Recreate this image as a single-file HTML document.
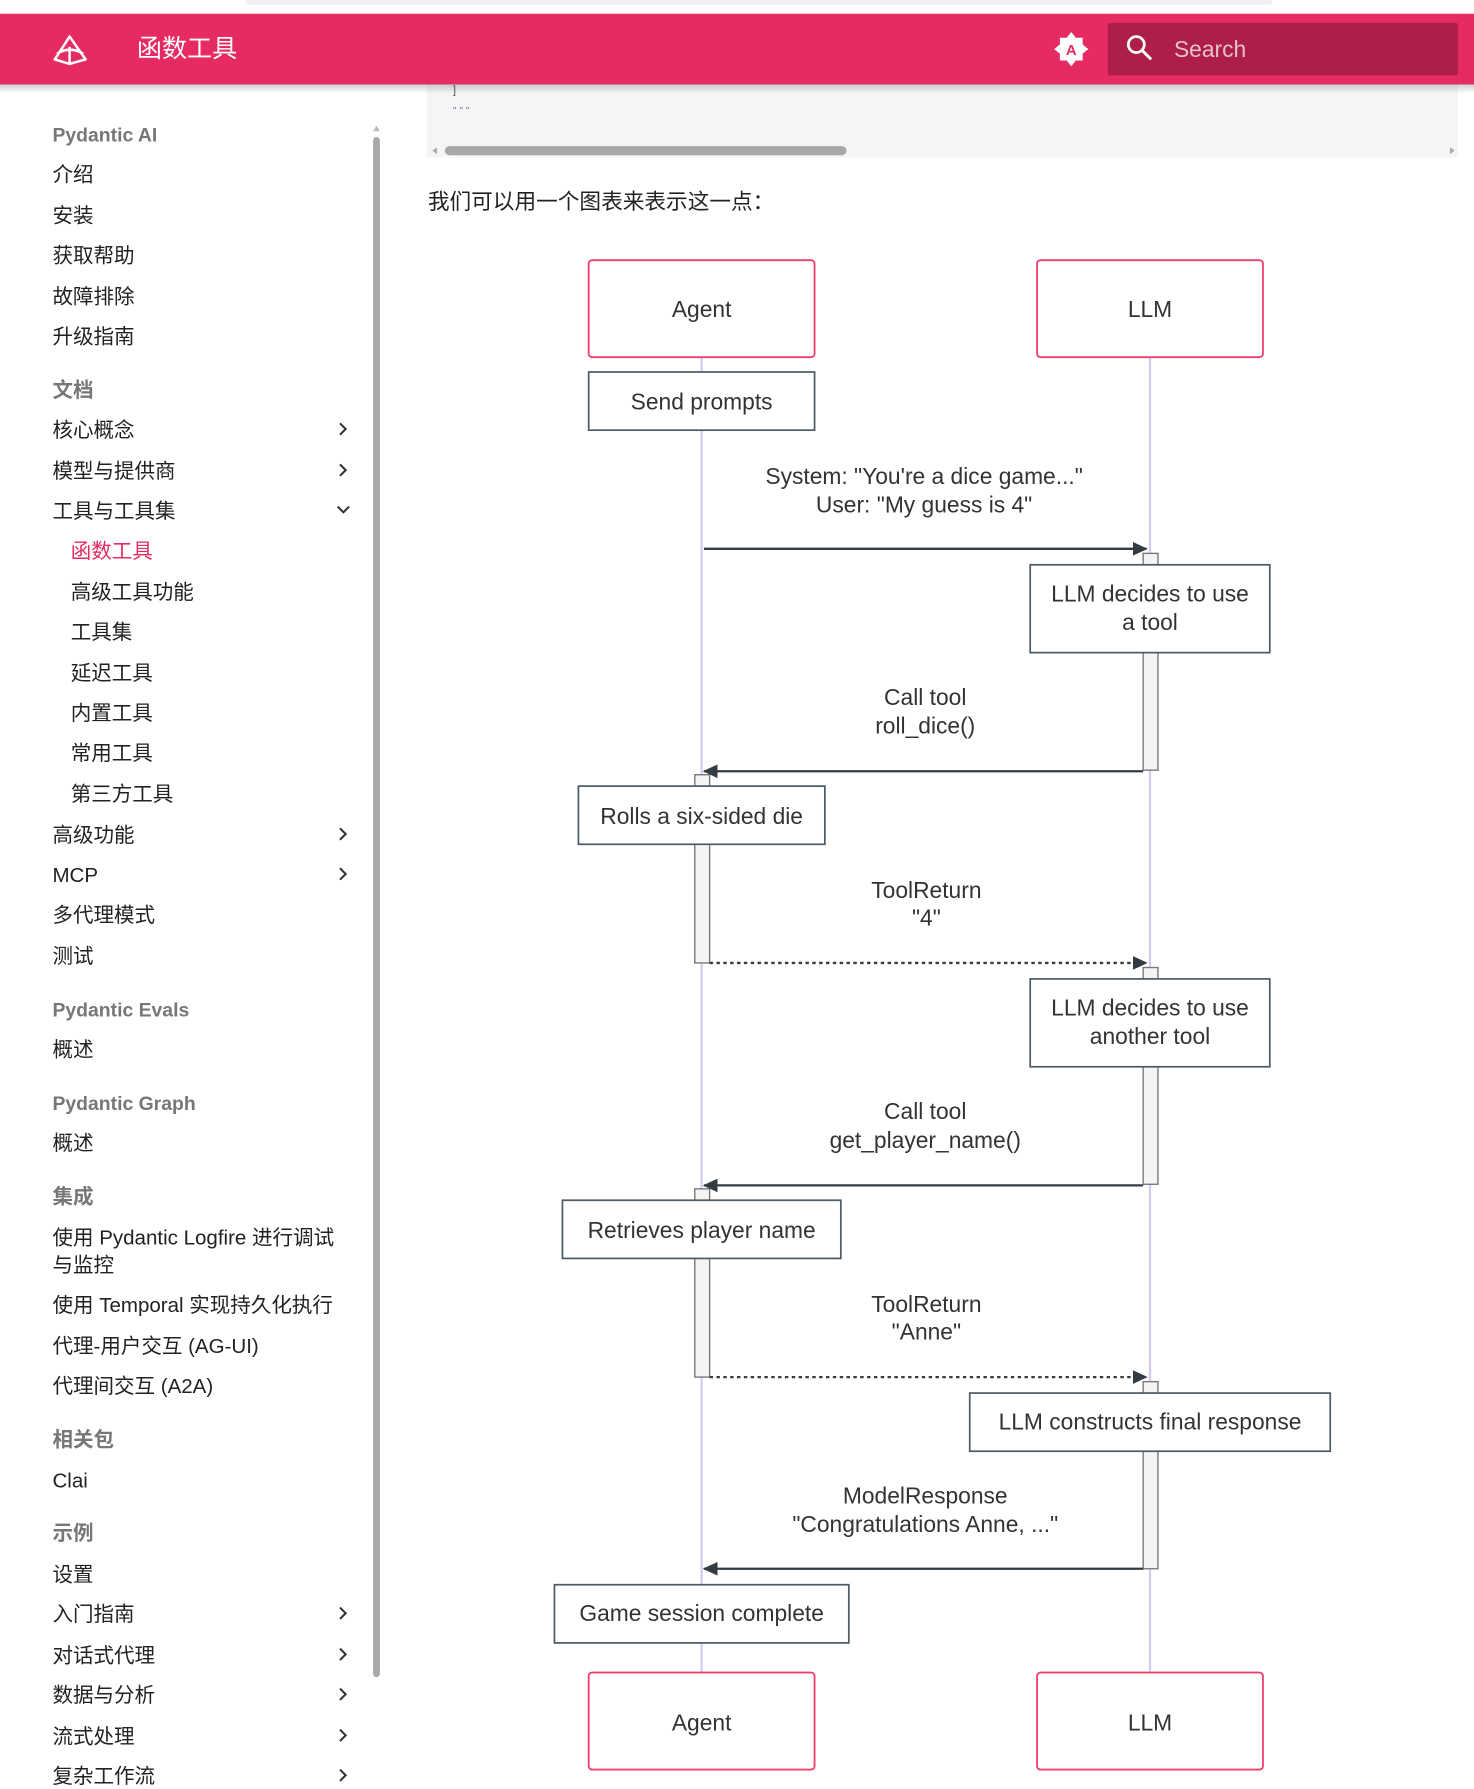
<!DOCTYPE html>
<html><head><meta charset="utf-8"><style>
html,body{margin:0;padding:0;background:#fff;width:1474px;height:1789px;overflow:hidden}
svg{display:block}
text{font-family:"Liberation Sans","Noto Sans CJK SC",sans-serif}
</style></head><body>
<svg width="1474" height="1789" viewBox="0 0 1292 1568" xmlns="http://www.w3.org/2000/svg">
<defs>
<linearGradient id="sh" x1="0" y1="0" x2="0" y2="1"><stop offset="0" stop-color="#000" stop-opacity="0.18"/><stop offset="1" stop-color="#000" stop-opacity="0"/></linearGradient>
<marker id="ar" markerWidth="13" markerHeight="12" refX="12" refY="6" orient="auto" markerUnits="userSpaceOnUse"><path d="M0,0 L13,6 L0,12 z" fill="#333c42"/></marker>
</defs>
<rect x="0" y="0" width="1292" height="12" fill="#fff"/>
<rect x="215" y="0" width="900" height="4" rx="2" fill="#eef0f4"/>
<rect x="374" y="74" width="904" height="64" fill="#f5f5f5"/>
<text x="397" y="82" font-size="10" fill="#555">]</text>
<text x="397" y="100" font-size="9" fill="#6a7a99">" " "</text>
<rect x="390" y="128" width="352" height="8" rx="4" fill="#a8a8a8"/>
<path d="M379,132 l4,-3 v6z M1275,132 l-4,-3 v6z" fill="#a8a8a8"/>
<rect x="0" y="74" width="1292" height="8" fill="url(#sh)"/>
<rect x="0" y="12" width="1292" height="62" fill="#e52b62"/>
<g fill="none" stroke="#fff" stroke-width="2.2" stroke-linejoin="round">
<path d="M61,32 L48,52 L61,56 L75,52 Z M50,47 Q61,40 73,47 M61,41 V56"/>
</g>
<text x="120" y="50" font-size="22" fill="#fff">函数工具</text>
<path d="M939,28 l4,5 6,0 0,6 5,4 -5,4 0,6 -6,0 -4,5 -4,-5 -6,0 0,-6 -5,-4 5,-4 0,-6 6,0z" fill="#fff"/>
<text x="939" y="48" font-size="13" font-weight="bold" fill="#e52b62" text-anchor="middle">A</text>
<rect x="971" y="20" width="307" height="46" rx="2" fill="#ad1f4a"/>
<circle cx="996" cy="39" r="7" fill="none" stroke="#fff" stroke-width="2.4"/>
<path d="M1001,44 L1009,52" stroke="#fff" stroke-width="2.6"/>
<text x="1029" y="50" font-size="20" fill="#fff" fill-opacity="0.72">Search</text>

<rect x="327" y="120" width="6" height="1350" rx="3" fill="#a8a8a8"/>
<path d="M330,110 l-3,5 h6z" fill="#bbb"/>
<g font-size="18" fill="#222">
<text x="46" y="124" fill="#777" font-weight="bold" font-size="17">Pydantic AI</text>
<text x="46" y="159">介绍</text>
<text x="46" y="195">安装</text>
<text x="46" y="230">获取帮助</text>
<text x="46" y="266">故障排除</text>
<text x="46" y="301">升级指南</text>
<text x="46" y="348" fill="#777" font-weight="bold">文档</text>
<text x="46" y="383">核心概念</text>
<text x="46" y="419">模型与提供商</text>
<text x="46" y="454">工具与工具集</text>
<text x="62" y="489" fill="#e52b62">函数工具</text>
<text x="62" y="525">高级工具功能</text>
<text x="62" y="560">工具集</text>
<text x="62" y="596">延迟工具</text>
<text x="62" y="631">内置工具</text>
<text x="62" y="666">常用工具</text>
<text x="62" y="702">第三方工具</text>
<text x="46" y="738">高级功能</text>
<text x="46" y="773">MCP</text>
<text x="46" y="808">多代理模式</text>
<text x="46" y="844">测试</text>
<text x="46" y="891" fill="#777" font-weight="bold" font-size="17">Pydantic Evals</text>
<text x="46" y="926">概述</text>
<text x="46" y="973" fill="#777" font-weight="bold" font-size="17">Pydantic Graph</text>
<text x="46" y="1008">概述</text>
<text x="46" y="1055" fill="#777" font-weight="bold">集成</text>
<text x="46" y="1091">使用 Pydantic Logfire 进行调试</text>
<text x="46" y="1115">与监控</text>
<text x="46" y="1150">使用 Temporal 实现持久化执行</text>
<text x="46" y="1186">代理-用户交互 (AG-UI)</text>
<text x="46" y="1221">代理间交互 (A2A)</text>
<text x="46" y="1268" fill="#777" font-weight="bold">相关包</text>
<text x="46" y="1304">Clai</text>
<text x="46" y="1350" fill="#777" font-weight="bold">示例</text>
<text x="46" y="1386">设置</text>
<text x="46" y="1421">入门指南</text>
<text x="46" y="1457">对话式代理</text>
<text x="46" y="1492">数据与分析</text>
<text x="46" y="1528">流式处理</text>
<text x="46" y="1563">复杂工作流</text>
</g>
<g fill="none" stroke="#333" stroke-width="1.8">
<path d="M298,371 l5,5 -5,5 M298,407 l5,5 -5,5 M296,444 l5,5 5,-5 M298,726 l5,5 -5,5 M298,761 l5,5 -5,5 M298,1409 l5,5 -5,5 M298,1445 l5,5 -5,5 M298,1480 l5,5 -5,5 M298,1516 l5,5 -5,5 M298,1551 l5,5 -5,5"/>
</g>

<text x="375" y="183" font-size="19" fill="#222">我们可以用一个图表来表示这一点：</text>

<g stroke="#d5cbf2" stroke-width="2"><line x1="615" y1="313" x2="615" y2="1466"/><line x1="1008" y1="313" x2="1008" y2="1466"/></g>
<g fill="#fff" stroke="#ef3f6e" stroke-width="1.6">
<rect x="516" y="228" width="198" height="85" rx="3"/><rect x="909" y="228" width="198" height="85" rx="3"/>
<rect x="516" y="1466" width="198" height="85" rx="3"/><rect x="909" y="1466" width="198" height="85" rx="3"/>
</g>
<g fill="#f4f4f4" stroke="#777" stroke-width="1.2">
<rect x="1002" y="485" width="13" height="190"/>
<rect x="609" y="679" width="13" height="165"/>
<rect x="1002" y="848" width="13" height="190"/>
<rect x="609" y="1042" width="13" height="165"/>
<rect x="1002" y="1211" width="13" height="164"/>
</g>
<g fill="#fff" stroke="#4d5a63" stroke-width="1.5">
<rect x="516" y="326" width="198" height="51"/>
<rect x="903" y="495" width="210" height="77"/>
<rect x="507" y="689" width="216" height="51"/>
<rect x="903" y="858" width="210" height="77"/>
<rect x="493" y="1052" width="244" height="51"/>
<rect x="850" y="1221" width="316" height="51"/>
<rect x="486" y="1389" width="258" height="51"/>
</g>
<g stroke="#333c42" stroke-width="2" fill="none" marker-end="url(#ar)">
<line x1="617" y1="481" x2="1005" y2="481"/>
<line x1="1002" y1="676" x2="617" y2="676"/>
<line x1="622" y1="844" x2="1005" y2="844" stroke-dasharray="3,3"/>
<line x1="1002" y1="1039" x2="617" y2="1039"/>
<line x1="622" y1="1207" x2="1005" y2="1207" stroke-dasharray="3,3"/>
<line x1="1002" y1="1375" x2="617" y2="1375"/>
</g>
<g font-size="20" fill="#333" text-anchor="middle">
<text x="615" y="278">Agent</text><text x="1008" y="278">LLM</text>
<text x="615" y="1517">Agent</text><text x="1008" y="1517">LLM</text>
<text x="615" y="359">Send prompts</text>
<text x="810" y="424">System: "You're a dice game..."</text>
<text x="810" y="449">User: "My guess is 4"</text>
<text x="1008" y="527">LLM decides to use</text>
<text x="1008" y="552">a tool</text>
<text x="811" y="618">Call tool</text>
<text x="811" y="643">roll_dice()</text>
<text x="615" y="722">Rolls a six-sided die</text>
<text x="812" y="787">ToolReturn</text>
<text x="812" y="811">"4"</text>
<text x="1008" y="890">LLM decides to use</text>
<text x="1008" y="915">another tool</text>
<text x="811" y="981">Call tool</text>
<text x="811" y="1006">get_player_name()</text>
<text x="615" y="1085">Retrieves player name</text>
<text x="812" y="1150">ToolReturn</text>
<text x="812" y="1174">"Anne"</text>
<text x="1008" y="1253">LLM constructs final response</text>
<text x="811" y="1318">ModelResponse</text>
<text x="811" y="1343">"Congratulations Anne, ..."</text>
<text x="615" y="1421">Game session complete</text>
</g>
</svg>
</body></html>
